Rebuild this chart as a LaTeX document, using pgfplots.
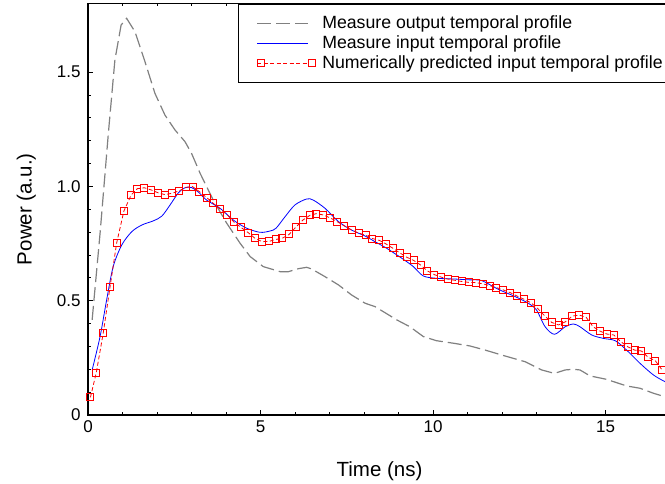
\documentclass[border=0pt]{standalone}
\usepackage{fontspec}
\setmainfont{Liberation Sans}
\usepackage{pgfplots}
\pgfplotsset{compat=1.18}
\definecolor{outgray}{RGB}{128,128,128}
\definecolor{mred}{RGB}{255,0,0}
\tikzset{sqmark/.style={color=mred, draw=mred, solid, line width=1pt, minimum size=7pt, inner sep=0pt, text height=0pt, text depth=0pt, shape=rectangle, fill=none}}
\pgfplotsset{
  myline legend/.style={legend image code/.code={\path (-15pt,0pt) (63pt,0pt); \draw[##1] (0pt,0pt) -- (51pt,0pt);}},
  mysq legend/.style={legend image code/.code={\path (-15pt,0pt) (63pt,0pt);
     \draw[color=mred, line width=0.8pt, dash pattern=on 4pt off 2.5pt] (0pt,0pt) -- (51pt,0pt);
     \node[sqmark] at (0pt,0pt) {}; \node[sqmark] at (51pt,0pt) {};}},
}
\begin{document}
\begin{tikzpicture}
\begin{axis}[
  scale only axis,
  width=584.8pt, height=411.5pt,
  xmin=0, xmax=16.95, ymin=0, ymax=1.8,
  xtick={0,5,10,15}, minor x tick num=4,
  ytick={0,0.5,1,1.5}, yticklabels={0,0.5,1.0,1.5}, minor y tick num=4,
  tick align=inside,
  major tick length=5pt, minor tick length=3pt,
  tick style={black, line width=0.7pt},
  axis line style={black, line width=1.5pt},
  /pgf/number format/assume math mode=true,
  ticklabel style={font=\fontsize{17}{20}\selectfont},
  xticklabel style={yshift=-2pt},
  yticklabel style={xshift=-4pt},
  label style={font=\fontsize{20.5}{24}\selectfont},
  xlabel={Time (ns)}, ylabel={Power (a.u.)},
  xlabel style={at={(axis description cs:0.4985,-0.15)}, anchor=base},
  ylabel style={at={(axis description cs:-0.0966,0.5)}, anchor=base},
  legend style={at={(axis description cs:0.2565,1)}, anchor=north west,
    draw=black, line width=1.2pt,
    font=\fontsize{17.7}{20}\selectfont,
    inner xsep=3pt, inner ysep=9.5pt, row sep=0pt,
    nodes={inner sep=1.5pt, text height=13.4pt, text depth=3.5pt}},
  legend cell align=left,
  myline legend,
]
\addplot[color=outgray, line width=1.2pt, dash pattern=on 14pt off 5pt] coordinates {
(0.12,0.416) (0.35,0.795) (0.59,1.232) (0.78,1.553) (0.96,1.706) (1.12,1.735)
(1.36,1.677) (1.65,1.546) (1.94,1.407) (2.23,1.312) (2.52,1.247) (2.81,1.196)
(3.0,1.145) (3.25,1.057) (3.63,0.940) (4.02,0.839) (4.41,0.751) (4.7,0.693)
(5.08,0.649) (5.57,0.627) (5.81,0.627) (6.1,0.640) (6.34,0.646) (6.48,0.639)
(6.87,0.605) (7.26,0.569) (7.64,0.525) (8.03,0.489) (8.32,0.474) (8.56,0.452)
(8.95,0.416) (9.33,0.386) (9.72,0.343) (10.1,0.325) (10.59,0.314) (11.07,0.302)
(11.51,0.284) (12.09,0.258) (12.67,0.233) (13.15,0.197) (13.52,0.182) (13.83,0.197)
(14.07,0.200) (14.26,0.197) (14.55,0.171) (15.03,0.156) (15.61,0.127) (16.0,0.117)
(16.39,0.095) (16.72,0.080) (16.95,0.072)
};
\addlegendentry{Measure output temporal profile}
\addplot[color=blue, line width=0.8pt, smooth, tension=0.5] coordinates {
(0.12,0.197) (0.35,0.343) (0.54,0.503) (0.73,0.649) (0.98,0.744) (1.27,0.802)
(1.56,0.831) (1.89,0.849) (2.14,0.870) (2.38,0.919) (2.62,0.972) (2.81,0.994)
(3.0,0.995) (3.2,0.975) (3.44,0.940) (3.83,0.904) (4.21,0.853) (4.6,0.817)
(4.99,0.799) (5.28,0.805) (5.45,0.817) (5.71,0.867) (6.0,0.919) (6.34,0.945)
(6.53,0.940) (6.87,0.904) (7.26,0.846) (7.64,0.809) (8.03,0.783) (8.32,0.758)
(8.66,0.729) (9.14,0.681) (9.43,0.649) (9.72,0.608) (10.1,0.598) (10.59,0.595)
(11.07,0.591) (11.41,0.588) (11.89,0.550) (12.38,0.518) (12.76,0.489) (13.0,0.459)
(13.25,0.386) (13.52,0.353) (13.83,0.386) (14.07,0.398) (14.26,0.386) (14.6,0.350)
(14.94,0.335) (15.28,0.325) (15.61,0.284) (16.0,0.226) (16.39,0.175) (16.72,0.146)
(16.95,0.130)
};
\addlegendentry{Measure input temporal profile}
\addplot[color=mred, line width=0.8pt, dash pattern=on 4pt off 2.5pt, mark=none,
  nodes near coords={}, every node near coord/.append style={sqmark, anchor=center},
  mysq legend] coordinates {
(0.07,0.077) (0.24,0.185) (0.44,0.357) (0.64,0.561) (0.83,0.752) (1.04,0.892)
(1.25,0.962) (1.43,0.990) (1.63,0.994) (1.84,0.984) (2.03,0.972) (2.23,0.964)
(2.44,0.970) (2.65,0.981) (2.84,0.996) (3.03,0.999) (3.23,0.977) (3.44,0.951)
(3.63,0.926) (3.83,0.901) (4.04,0.875) (4.23,0.844) (4.43,0.821) (4.64,0.798)
(4.84,0.773) (5.05,0.758) (5.26,0.760) (5.45,0.768) (5.63,0.773) (5.83,0.790)
(6.02,0.821) (6.23,0.853) (6.43,0.873) (6.62,0.881) (6.82,0.875) (7.02,0.862)
(7.22,0.846) (7.43,0.827) (7.64,0.809) (7.86,0.795) (8.05,0.786) (8.24,0.772)
(8.44,0.764) (8.64,0.748) (8.84,0.729) (9.04,0.709) (9.24,0.690) (9.44,0.676)
(9.64,0.656) (9.84,0.630) (10.04,0.614) (10.24,0.603) (10.44,0.594) (10.64,0.589)
(10.84,0.584) (11.04,0.580) (11.24,0.579) (11.44,0.574) (11.64,0.566) (11.84,0.557)
(12.04,0.547) (12.24,0.535) (12.44,0.520) (12.64,0.506) (12.84,0.491) (13.04,0.465)
(13.24,0.433) (13.44,0.405) (13.64,0.394) (13.84,0.408) (14.04,0.433) (14.24,0.437)
(14.44,0.427) (14.64,0.386) (14.84,0.367) (15.04,0.354) (15.24,0.350) (15.44,0.321)
(15.64,0.299) (15.84,0.284) (16.04,0.280) (16.24,0.252) (16.44,0.238) (16.64,0.197)
};
\addlegendentry{Numerically predicted input temporal profile}
\end{axis}
\pgfresetboundingbox
\path[use as bounding box] (current axis.south west) ++(-88pt,-69pt) rectangle ++(665pt,484pt);
\end{tikzpicture}
\end{document}
